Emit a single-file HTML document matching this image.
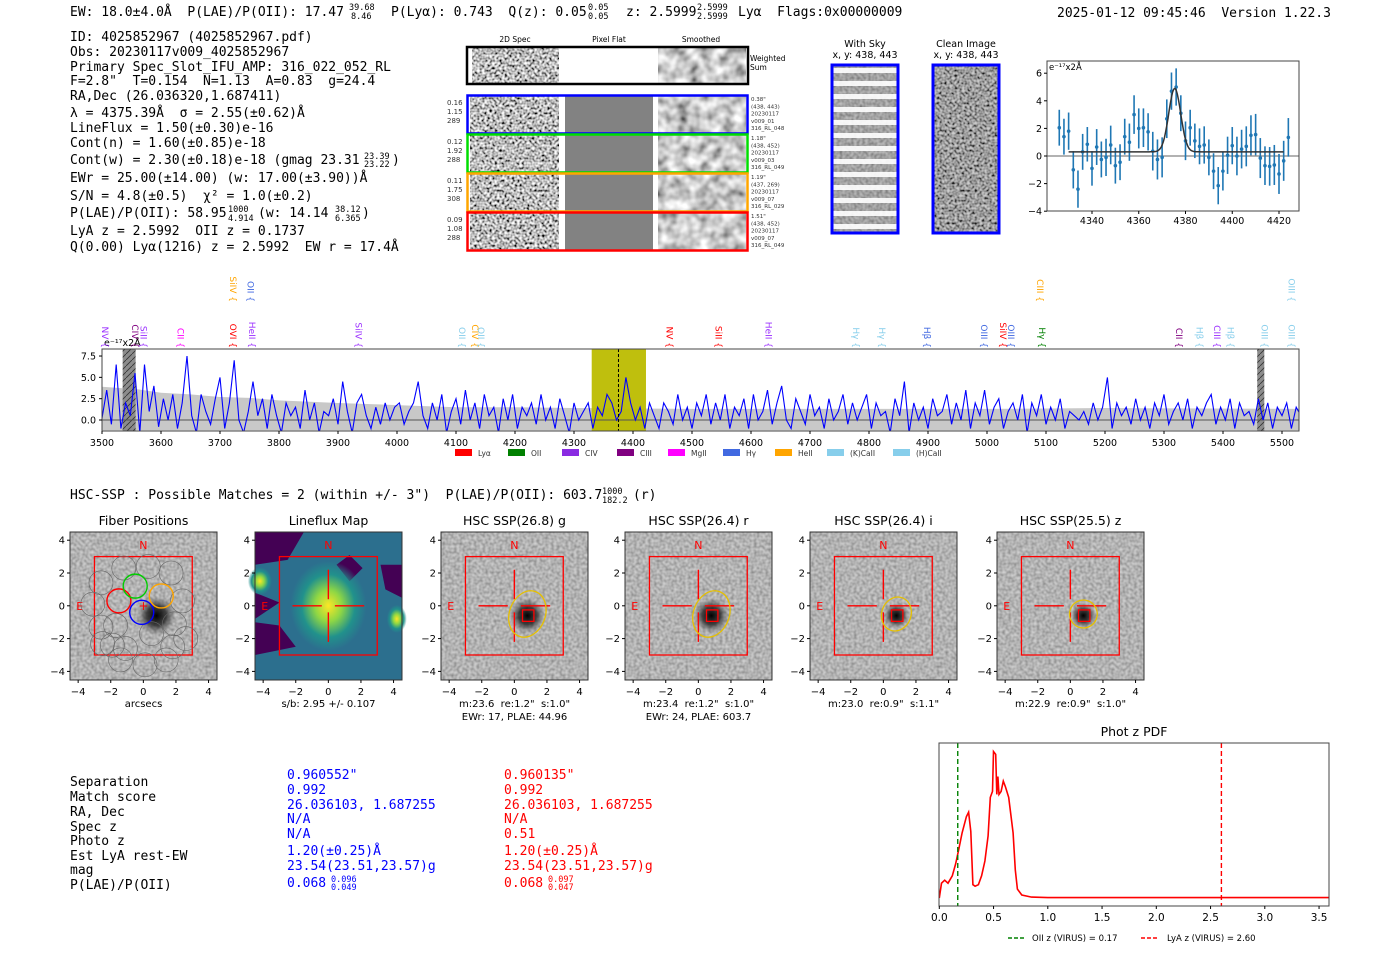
<!DOCTYPE html>
<html><head><meta charset="utf-8">
<style>
html,body{margin:0;padding:0;background:#fff;}
svg{display:block;}
text{white-space:pre;}
.m{font-family:"DejaVu Sans Mono","Liberation Mono",monospace;font-size:13px;fill:#000;}
.m .sm, .sm{font-size:8.5px;}
.s{font-family:"DejaVu Sans","Liberation Sans",sans-serif;}
</style></head>
<body>
<svg id="fig" width="1400" height="953" viewBox="0 0 1400 953" xmlns="http://www.w3.org/2000/svg">
<defs>
 <filter id="nz" x="0" y="0" width="100%" height="100%"><feTurbulence type="fractalNoise" baseFrequency="0.35" numOctaves="1" seed="3"/><feColorMatrix values="1.1 0 0 0 0.1  1.1 0 0 0 0.1  1.1 0 0 0 0.1  0 0 0 0 1"/></filter>
 <filter id="nzh" x="0" y="0" width="100%" height="100%"><feTurbulence type="fractalNoise" baseFrequency="0.4" numOctaves="1" seed="7"/><feColorMatrix values="2.2 0 0 0 -0.6  2.2 0 0 0 -0.6  2.2 0 0 0 -0.6  0 0 0 0 1"/></filter>
 <filter id="nzs" x="0" y="0" width="100%" height="100%"><feTurbulence type="fractalNoise" baseFrequency="0.09" numOctaves="2" seed="5"/><feColorMatrix values="1.4 0 0 0 -0.1  1.4 0 0 0 -0.1  1.4 0 0 0 -0.1  0 0 0 0 1"/></filter>
 <radialGradient id="blob"><stop offset="0" stop-color="#000"/><stop offset="0.5" stop-color="#222" stop-opacity="0.8"/><stop offset="1" stop-color="#666" stop-opacity="0"/></radialGradient>
 <radialGradient id="vir"><stop offset="0" stop-color="#fde725"/><stop offset="0.35" stop-color="#8fd744"/><stop offset="0.7" stop-color="#21918c"/><stop offset="1" stop-color="#21918c" stop-opacity="0"/></radialGradient>
 <pattern id="hatch" width="6" height="6" patternUnits="userSpaceOnUse"><rect width="6" height="6" fill="#8c8c8c"/><path d="M0 6 L6 0" stroke="#333" stroke-width="0.8"/></pattern>
 <clipPath id="clipMain"><rect x="102" y="349" width="1197" height="82"/></clipPath>
 <clipPath id="clipZoom"><rect x="1047" y="61" width="252" height="150"/></clipPath>
</defs>

<!-- header -->
<g class="m">
 <text x="70" y="16">EW: 18.0±4.0Å  P(LAE)/P(OII): 17.47</text>
 <text x="349" y="10" class="sm">39.68</text><text x="351" y="19" class="sm">8.46</text>
 <text x="391" y="16">P(Lyα): 0.743  Q(z): 0.05</text>
 <text x="588" y="10" class="sm">0.05</text><text x="588" y="19" class="sm">0.05</text>
 <text x="626" y="16">z: 2.5999</text>
 <text x="697" y="10" class="sm">2.5999</text><text x="697" y="19" class="sm">2.5999</text>
 <text x="738" y="16">Lyα  Flags:0x00000009</text>
</g>
<text class="m" x="1057" y="17">2025-01-12 09:45:46  Version 1.22.3</text>

<g class="m">
 <text x="70" y="41">ID: 4025852967 (4025852967.pdf)</text>
 <text x="70" y="56">Obs: 20230117v009_4025852967</text>
 <text x="70" y="71">Primary Spec_Slot_IFU_AMP: 316_022_052_RL</text>
 <text x="70" y="85">F=2.8"  T=0.154  N=1.13  A=0.83  g=24.4</text>
 <text x="70" y="100">RA,Dec (26.036320,1.687411)</text>
 <text x="70" y="117">λ = 4375.39Å  σ = 2.55(±0.62)Å</text>
 <text x="70" y="132">LineFlux = 1.50(±0.30)e-16</text>
 <text x="70" y="147">Cont(n) = 1.60(±0.85)e-18</text>
 <text x="70" y="164">Cont(w) = 2.30(±0.18)e-18 (gmag 23.31</text>
 <text x="364" y="159" class="sm">23.39</text><text x="364" y="167" class="sm">23.22</text><text x="392" y="164">)</text>
 <text x="70" y="182">EWr = 25.00(±14.00) (w: 17.00(±3.90))Å</text>
 <text x="70" y="200">S/N = 4.8(±0.5)  χ² = 1.0(±0.2)</text>
 <text x="70" y="217">P(LAE)/P(OII): 58.95</text>
 <text x="228" y="212" class="sm">1000</text><text x="228" y="221" class="sm">4.914</text>
 <text x="258" y="217">(w: 14.14</text>
 <text x="335" y="212" class="sm">38.12</text><text x="335" y="221" class="sm">6.365</text><text x="362" y="217">)</text>
 <text x="70" y="235">LyA z = 2.5992  OII z = 0.1737</text>
 <text x="70" y="251">Q(0.00) Lyα(1216) z = 2.5992  EW r = 17.4Å</text>
</g>

<!-- 2D spectra block -->
<g class="s" font-size="7.5">
 <text x="515" y="42" text-anchor="middle">2D Spec</text>
 <text x="609" y="42" text-anchor="middle">Pixel Flat</text>
 <text x="701" y="42" text-anchor="middle">Smoothed</text>
 <rect x="472" y="48" width="87" height="35" filter="url(#nzh)"/>
 <rect x="658" y="48" width="88" height="35" filter="url(#nzs)"/>
 <rect x="467" y="47" width="281" height="37" fill="none" stroke="#000" stroke-width="2.5"/>
 <text x="750" y="61">Weighted</text><text x="750" y="70">Sum</text>
 <g id="specRows"></g>
</g>

<g>
 <text class="s" font-size="9.5" x="865" y="47" text-anchor="middle">With Sky</text>
 <text class="s" font-size="9.5" x="865" y="58" text-anchor="middle">x, y: 438, 443</text>
 <rect x="832" y="65" width="66" height="168" filter="url(#nz)"/>
 <rect x="832" y="65" width="66" height="168" fill="#444" opacity="0.35"/>
 <g id="skyStripes"></g>
 <rect x="832" y="65" width="66" height="168" fill="none" stroke="#0000ff" stroke-width="3"/>
</g>
<g>
 <text class="s" font-size="9.5" x="966" y="47" text-anchor="middle">Clean Image</text>
 <text class="s" font-size="9.5" x="966" y="58" text-anchor="middle">x, y: 438, 443</text>
 <rect x="933" y="65" width="66" height="168" filter="url(#nzh)"/>
 <rect x="933" y="65" width="66" height="168" fill="#555" opacity="0.3"/>
 <rect x="933" y="65" width="66" height="168" fill="none" stroke="#0000ff" stroke-width="3"/>
</g>

<g id="zoomPlot"></g>
<g id="mainSpec"></g>

<g class="m">
<text x="70" y="499">HSC-SSP : Possible Matches = 2 (within +/- 3")  P(LAE)/P(OII): 603.7</text>
<text x="602" y="494" class="sm">1000</text>
<text x="602" y="503" class="sm">182.2</text>
<text x="633" y="499">(r)</text>
</g>

<g id="cutouts"></g>

<!-- match table -->
<g class="m">
 <g>
 <text x="70" y="786">Separation</text><text x="70" y="801">Match score</text><text x="70" y="816">RA, Dec</text>
 <text x="70" y="831">Spec z</text><text x="70" y="845">Photo z</text><text x="70" y="860">Est LyA rest-EW</text>
 <text x="70" y="874">mag</text><text x="70" y="889">P(LAE)/P(OII)</text></g>
 <g>
 <text x="287" y="779" fill="#0000ff">0.960552"</text><text x="287" y="794" fill="#0000ff">0.992</text>
 <text x="287" y="809" fill="#0000ff">26.036103, 1.687255</text><text x="287" y="823" fill="#0000ff">N/A</text>
 <text x="287" y="838" fill="#0000ff">N/A</text><text x="287" y="855" fill="#0000ff">1.20(±0.25)Å</text>
 <text x="287" y="870" fill="#0000ff">23.54(23.51,23.57)g</text><text x="287" y="887" fill="#0000ff">0.068</text>
 <text x="331" y="882" class="sm" fill="#0000ff">0.096</text><text x="331" y="890" class="sm" fill="#0000ff">0.049</text></g>
 <g>
 <text x="504" y="779" fill="#ff0000">0.960135"</text><text x="504" y="794" fill="#ff0000">0.992</text>
 <text x="504" y="809" fill="#ff0000">26.036103, 1.687255</text><text x="504" y="823" fill="#ff0000">N/A</text>
 <text x="504" y="838" fill="#ff0000">0.51</text><text x="504" y="855" fill="#ff0000">1.20(±0.25)Å</text>
 <text x="504" y="870" fill="#ff0000">23.54(23.51,23.57)g</text><text x="504" y="887" fill="#ff0000">0.068</text>
 <text x="548" y="882" class="sm" fill="#ff0000">0.097</text><text x="548" y="890" class="sm" fill="#ff0000">0.047</text></g>
</g>

<g id="photz"></g>
</svg>

<script>
// ---------- data ----------
const fitWave = [4326,4328,4330,4332,4334,4336,4338,4340,4342,4344,4346,4348,4350,4352,4354,4356,4358,4360,4362,4364,4366,4368,4370,4372,4374,4376,4378,4380,4382,4384,4386,4388,4390,4392,4394,4396,4398,4400,4402,4404,4406,4408,4410,4412,4414,4416,4418,4420,4422,4424];
const fitFlux = [2.05,1.4,1.8,-1.0,-2.4,0.3,0.85,-0.9,0.65,-0.25,-0.1,0.8,-0.7,-0.45,1.4,1.0,3.0,2.0,2.05,1.75,0.35,-0.25,-0.1,2.7,4.7,5.0,3.1,1.1,2.05,1.1,0.7,0.8,-0.1,-1.1,-2.15,-1.1,0.05,0.75,0.0,0.5,0.7,1.5,1.55,-0.15,-0.7,-0.75,-0.65,-1.3,-0.35,1.35];
const fitErr = [1.3,1.3,1.35,1.35,1.35,1.3,1.25,1.25,1.3,1.3,1.35,1.4,1.3,1.3,1.3,1.35,1.4,1.45,1.4,1.35,1.4,1.45,1.45,1.4,1.35,1.35,1.3,1.4,1.3,1.25,1.3,1.35,1.3,1.3,1.35,1.4,1.35,1.35,1.4,1.4,1.45,1.45,1.5,1.45,1.4,1.4,1.45,1.45,1.45,1.4];
const fitCenter = 4375.39, fitSigma = 2.55, fitAmp = 4.6, fitBase = 0.3, fitLo = 4330, fitHi = 4422;
const zoomYTicks = [6,4,2,0,-2,-4];
const zoomXTicks = [4340,4360,4380,4400,4420];

const specStart = 3500, specStep = 8;
const specFlux = [0.2,3.5,-0.5,6.5,-1,2,0.5,5.5,-1.5,6.5,1,4,-0.8,
2.5,0,3,-1,2,7.5,0.5,-1.5,3,1,-0.5,2.5,5,
-1,2,7,0,-1.5,1,4.5,0.5,2.5,-1,3,0.5,-1.5,
2,0.5,1.5,-1,3.5,0,2,-1.5,1,0.5,2.5,-0.5,4.5,
1,-1.5,2,3,0.5,-1,1.5,-0.5,2,0,1.5,2,-0.5,
1,2,4.5,0.5,-1,2,0,3,-1.5,1,2.5,-0.5,3.5,
0,2,-1,3,0.5,1.5,-1.5,2.5,0,3,-1,1.5,0.5,
2,-0.5,3,0,1.5,-1,2.5,0.5,-1.5,2,0,1,2,
-1,1.5,0.5,3,2,0,1,5,2,0,1.5,-1,2,
0.5,-1,2,1,-0.5,3,0,1.5,-1,2,0.5,3,-0.5,
2,0,3,-1,1.5,0.5,2.5,-1,3,0,1,3.5,-0.5,
2,4,0,-1,2.5,1,-0.5,3,0.5,1.5,-1,2.5,0,
1,3,-0.5,2,0,1.5,3,-1,2,0.5,1,-1.5,2.5,
0.5,4.5,-1.5,2,0,1.5,-1,2.5,0.5,1,3,-0.5,2,
0,3.5,-1,2,0.5,3.5,-0.5,1.5,2.5,-1,1,2,0,
3,-1.5,2,0.5,3,-0.5,1.5,0,2.5,-1,1,0.5,0,
1,-0.5,2,0,1.5,5,-1,2,0.5,1.5,-0.5,2.5,0,
1.5,-1,2,0.5,3,-0.5,1,2,0,2.5,-1,1.5,0.5,
2,3,-0.5,1.5,0,2.5,-1,2,0.5,1,-0.5,2.5,0,
2,-1,1.5,0.5,2,-1,1.5,0.5];
const errWave = [3500,3560,3600,3650,3700,3750,3800,3900,4000,4100,4200,4300,4500,5000,5200,5530];
const errHi = [3.9,3.6,3.2,3.0,2.7,2.6,2.3,2.0,1.75,1.5,1.5,1.4,1.3,1.3,1.4,1.3];
const errLo = [-1.2,-1.2,-1.2,-1.2,-1.2,-1.2,-1.2,-1.2,-1.2,-1.2,-1.2,-1.2,-1.2,-1.2,-1.2,-1.2];
const specXTicks = [3500,3600,3700,3800,3900,4000,4100,4200,4300,4400,4500,4600,4700,4800,4900,5000,5100,5200,5300,5400,5500];
const specYTicks = [7.5,5.0,2.5,0.0];
const lineNames = ["NV","CIV","SiII","CII","SiIV","OVI","OII","HeII","SiIV","OII","CIV","OII","NV","SiII","HeII","Hγ","Hγ","Hβ","OIII","SiIV","OIII","CIII","Hγ","CII","Hβ","CIII","Hβ","OIII","OIII","OIII"];
const lineWaves = [3505,3556,3570,3633,3722,3722,3752,3754,3935,4110,4132,4142,4462,4545,4630,4778,4822,4898,4995,5027,5041,5090,5093,5325,5360,5390,5413,5470,5516,5516];
const lineRow = [0,0,0,0,1,0,1,0,0,0,0,0,0,0,0,0,0,0,0,0,0,1,0,0,0,0,0,0,1,0];
const lineColors = ["#9b30ff","#800080","#9b30ff","#ff00ff","#ffa500","#ff0000","#4169e1","#9b30ff","#9b30ff","#87ceeb","#ffa500","#87ceeb","#ff0000","#ff0000","#9b30ff","#87ceeb","#87ceeb","#4169e1","#4169e1","#ff0000","#4169e1","#ffa500","#008000","#800080","#87ceeb","#9b30ff","#87ceeb","#87ceeb","#87ceeb","#87ceeb"];
const legendNames = ["Lyα","OII","CIV","CIII","MgII","Hγ","HeII","(K)CaII","(H)CaII"];
const legendColors = ["#ff0000","#008000","#8a2be2","#800080","#ff00ff","#4169e1","#ffa500","#87ceeb","#87ceeb"];

const pdfZ = [0,0.02,0.05,0.08,0.12,0.15,0.18,0.21,0.25,0.27,0.29,0.31,0.33,0.36,0.39,0.42,0.45,0.47,0.49,0.50,0.52,0.53,0.54,0.55,0.57,0.59,0.61,0.64,0.66,0.68,0.70,0.72,0.76,0.85,1.0,3.6];
const pdfP = [0,0.10,0.12,0.10,0.15,0.23,0.33,0.44,0.55,0.58,0.45,0.09,0.08,0.09,0.15,0.25,0.42,0.68,0.72,0.99,0.97,0.70,0.82,0.70,0.72,0.79,0.75,0.68,0.56,0.44,0.19,0.06,0.02,0.006,0.003,0.003];
const pdfXTicks = [0,0.5,1.0,1.5,2.0,2.5,3.0,3.5];
const oiiZ = 0.17, lyaZ = 2.60;

const cutTitles = ["Fiber Positions","Lineflux Map","HSC SSP(26.8) g","HSC SSP(26.4) r","HSC SSP(26.4) i","HSC SSP(25.5) z"];
const cutLeft = [70,255,441,625,810,997];
const cutCap1 = ["arcsecs","s/b: 2.95 +/- 0.107","m:23.6  re:1.2\"  s:1.0\"","m:23.4  re:1.2\"  s:1.0\"","m:23.0  re:0.9\"  s:1.1\"","m:22.9  re:0.9\"  s:1.0\""];
const cutCap2 = ["","","EWr: 17, PLAE: 44.96","EWr: 24, PLAE: 603.7","",""];
const ellRx = [0,0,1.1,1.1,0.9,0.85];
const ellRy = [0,0,1.45,1.45,1.05,0.85];
const cutTicks = [-4,-2,0,2,4];
const fiberX = [-2.6,-1.2,0.3,1.7,-3.1,-1.7,2.4,-2.6,-1.9,1.9,2.6,-2.5,-1.1,0.5,1.8,-1.4,0.1,1.4];
const fiberY = [1.4,2.3,2.4,2.0,0.1,-1.2,0.3,-1.3,-2.4,-1.1,-2.0,-2.3,-2.6,-1.7,-2.5,-3.3,-3.6,-3.3];
const colFiberX = [-1.5,-0.5,1.1,-0.1];
const colFiberY = [0.3,1.2,0.6,-0.4];
const colFiberC = ["#ff0000","#00cc00","#ffa500","#0000ff"];

const rowColors = ["#0000ff","#00dd00","#ffa500","#ff0000"];
const rowLeft = [["0.16","1.15","289"],["0.12","1.92","288"],["0.11","1.75","308"],["0.09","1.08","288"]];
const rowRight = [["0.38\"","(438, 443)","20230117","v009_01","316_RL_048"],["1.18\"","(438, 452)","20230117","v009_03","316_RL_049"],["1.19\"","(437, 269)","20230117","v009_07","316_RL_029"],["1.51\"","(438, 452)","20230117","v009_07","316_RL_049"]];

// ---------- helpers ----------
const NS = "http://www.w3.org/2000/svg";
function mk(parent, tag, attrs, txt){
  const e = document.createElementNS(NS, tag);
  for (const k in attrs) e.setAttribute(k, attrs[k]);
  if (txt !== undefined) e.textContent = txt;
  parent.appendChild(e);
  return e;
}
const SANS = '"DejaVu Sans","Liberation Sans",sans-serif';

// ---------- 2D spec rows ----------
(function(){
  const g = document.getElementById('specRows');
  const tops = [95,134,173,212];
  for (let i=0;i<4;i++){
    const y = tops[i], h = 38;
    let el;
    el = mk(g,'rect',{x:470,y:y,width:89,height:h,filter:'url(#nzh)'});
    
    
    el = mk(g,'rect',{x:565,y:y,width:88,height:h,fill:'#828282'});
    
    
    el = mk(g,'rect',{x:658,y:y,width:88,height:h,filter:'url(#nzs)'});
    
    
    el = mk(g,'rect',{x:467.5,y:y+0.5,width:280,height:h,fill:'none',stroke:rowColors[i],'stroke-width':2.5});
    
    
    for (let j=0;j<3;j++){
      el = mk(g,'text',{x:447,y:y+10+j*9,'font-size':7,'font-family':SANS,fill:'#333'},rowLeft[i][j]);
      
      
    }
    for (let j=0;j<5;j++){
      el = mk(g,'text',{x:751,y:y+6+j*7.3,'font-size':5.5,'font-family':SANS,fill:'#333'},rowRight[i][j]);
      
      
    }
  }
  const s = document.getElementById('skyStripes');
  for (let k=0;k<13;k++){
    const el = mk(s,'rect',{x:832,y:68+k*13,width:66,height:5,fill:'#fff',opacity:0.9});
    
    
  }
})();

// ---------- zoom fit plot ----------
(function(){
  const g = document.getElementById('zoomPlot');
  const X0=1047,X1=1299,Y0=61,Y1=211;
  const zx = w => 1092 + (w-4340)*2.3375;
  const zy = v => 156 - v*13.8;
  let el;
  el = mk(g,'line',{x1:X0,x2:X1,y1:zy(0),y2:zy(0),stroke:'#666','stroke-width':1});
  
  
  const c = mk(g,'g',{'clip-path':'url(#clipZoom)'});
  for (let i=0;i<fitWave.length;i++){
    const x = zx(fitWave[i]);
    el = mk(c,'line',{x1:x,x2:x,y1:zy(fitFlux[i]-fitErr[i]),y2:zy(fitFlux[i]+fitErr[i]),stroke:'#1f77b4','stroke-width':1.6});
    
    
    el = mk(c,'circle',{cx:x,cy:zy(fitFlux[i]),r:1.8,fill:'#1f77b4'});
    
    
  }
  let d='';
  for (let w=fitLo; w<=fitHi; w+=0.5){
    const v = fitBase + fitAmp*Math.exp(-0.5*Math.pow((w-fitCenter)/fitSigma,2));
    d += (d?'L':'M')+zx(w).toFixed(1)+' '+zy(v).toFixed(1);
  }
  el = mk(g,'path',{d:d,fill:'none',stroke:'#333','stroke-width':1.5});
  
  
  el = mk(g,'rect',{x:X0,y:Y0,width:X1-X0,height:Y1-Y0,fill:'none',stroke:'#444','stroke-width':1});
  
  
  zoomYTicks.forEach(t=>{
    el = mk(g,'line',{x1:X0-3,x2:X0,y1:zy(t),y2:zy(t),stroke:'#000'});
    
    
    el = mk(g,'text',{x:X0-5,y:zy(t)+3.5,'text-anchor':'end','font-size':9.5,'font-family':SANS},String(t).replace('-','−'));
    
    
  });
  zoomXTicks.forEach(t=>{
    el = mk(g,'line',{x1:zx(t),x2:zx(t),y1:Y1,y2:Y1+3,stroke:'#000'});
    
    
    el = mk(g,'text',{x:zx(t),y:Y1+13,'text-anchor':'middle','font-size':9.5,'font-family':SANS},String(t));
    
    
  });
  el = mk(g,'text',{x:X0+2,y:Y0+9,'font-size':8.5,'font-family':SANS},'e⁻¹⁷x2Å');
  
  
})();

// ---------- main spectrum ----------
(function(){
  const g = document.getElementById('mainSpec');
  const X0=102,X1=1299,Y0=349,Y1=431;
  const sx = w => 102 + (w-3500)*0.59;
  const sy = v => 420 - v*8.53;
  let el;
  const c = mk(g,'g',{'clip-path':'url(#clipMain)'});
  let d='';
  for (let i=0;i<errWave.length;i++) d += (i?'L':'M')+sx(errWave[i])+' '+sy(errHi[i]);
  for (let i=errWave.length-1;i>=0;i--) d += 'L'+sx(errWave[i])+' '+sy(errLo[i]);
  el = mk(c,'path',{d:d+'Z',fill:'#c8c8c8'});
  
  
  el = mk(c,'rect',{x:sx(4330),y:Y0,width:sx(4422)-sx(4330),height:Y1-Y0,fill:'#bcbc00',opacity:0.95});
  
  
  el = mk(c,'rect',{x:sx(3535),y:Y0,width:sx(3557)-sx(3535),height:Y1-Y0,fill:'url(#hatch)'});
  
  
  el = mk(c,'rect',{x:sx(5458),y:Y0,width:sx(5470)-sx(5458),height:Y1-Y0,fill:'url(#hatch)'});
  
  
  el = mk(c,'line',{x1:X0,x2:X1,y1:sy(0),y2:sy(0),stroke:'#555','stroke-width':1});
  
  
  d='';
  specFlux.forEach((v,i)=>{ d += (i?'L':'M')+sx(specStart+i*specStep).toFixed(1)+' '+sy(v).toFixed(1); });
  el = mk(c,'path',{d:d,fill:'none',stroke:'#0000ff','stroke-width':1.1});
  
  
  el = mk(c,'line',{x1:sx(4375.4),x2:sx(4375.4),y1:Y0,y2:Y1,stroke:'#000','stroke-dasharray':'3,2','stroke-width':1});
  
  
  el = mk(g,'rect',{x:X0,y:Y0,width:X1-X0,height:Y1-Y0,fill:'none',stroke:'#444','stroke-width':1});
  
  
  specXTicks.forEach(t=>{
    el = mk(g,'line',{x1:sx(t),x2:sx(t),y1:Y1,y2:Y1+3,stroke:'#000'});
    
    
    el = mk(g,'text',{x:sx(t),y:Y1+15,'text-anchor':'middle','font-size':9.5,'font-family':SANS},String(t));
    
    
  });
  specYTicks.forEach(t=>{
    el = mk(g,'line',{x1:X0-3,x2:X0,y1:sy(t),y2:sy(t),stroke:'#000'});
    
    
    el = mk(g,'text',{x:X0-6,y:sy(t)+3.5,'text-anchor':'end','font-size':9.5,'font-family':SANS},t.toFixed(1));
    
    
  });
  el = mk(g,'text',{x:104,y:346,'font-size':9.5,'font-family':SANS},'e⁻¹⁷x2Å');
  
  
  lineNames.forEach((n,i)=>{
    const x = sx(lineWaves[i]);
    const yEnd = lineRow[i] ? 302 : 348;
    el = mk(g,'text',{x:0,y:0,transform:`translate(${x-3},${yEnd}) rotate(90)`,'text-anchor':'end','font-size':9,'font-family':SANS,fill:lineColors[i]},n+' {');
    
    
  });
  const lx = [455,508,562,617,668,723,775,827,893];
  legendNames.forEach((n,i)=>{
    el = mk(g,'rect',{x:lx[i],y:449,width:17,height:7,fill:legendColors[i]});
    
    
    el = mk(g,'text',{x:lx[i]+23,y:456,'font-size':7.5,'font-family':SANS,fill:'#333'},n);
    
    
  });
})();

// ---------- cutouts ----------
(function(){
  const g = document.getElementById('cutouts');
  const Y0=532, W=147, H=148;
  let el;
  for (let p=0;p<6;p++){
    const x0 = cutLeft[p];
    const cx = u => x0 + (u+4.5)*16.3;
    const cy = v => Y0 + (4.5-v)*16.4;
    const pg = mk(g,'g',{});
    
    
    el = mk(pg,'text',{x:x0+W/2,y:525,'text-anchor':'middle','font-size':12.5,'font-family':SANS},cutTitles[p]);
    
    
    if (p===1){
      el = mk(pg,'rect',{x:x0,y:Y0,width:W,height:H,fill:'#2c6f8e'});
      
      
      const purple = [[ -4.5,4.5,-1.5,4.5,-2.5,2.8,-4.5,2.5 ],[0.5,2.5,1.3,1.5,2.1,2.3,1.3,3.1],[3.2,2.5,4.5,2.5,4.5,0.5,3.5,1],[-4.5,-1.0,-3,-1.2,-2,-2.5,-4.5,-3],[-4.5,0.8,-3,0.2,-4.5,-0.8]];
      purple.forEach(pp=>{
        let d='';
        for (let k=0;k<pp.length;k+=2) d += (k?'L':'M')+cx(pp[k])+' '+cy(pp[k+1]);
        el = mk(pg,'path',{d:d+'Z',fill:'#440154'});
        
        
      });
      el = mk(pg,'ellipse',{cx:cx(0),cy:cy(0),rx:38,ry:45,fill:'url(#vir)'});
      
      
      el = mk(pg,'ellipse',{cx:cx(-4.2),cy:cy(1.5),rx:12,ry:14,fill:'url(#vir)'});
      
      
      el = mk(pg,'ellipse',{cx:cx(4.2),cy:cy(-0.8),rx:10,ry:14,fill:'url(#vir)'});
      
      
    } else {
      el = mk(pg,'rect',{x:x0,y:Y0,width:W,height:H,filter:'url(#nz)'});
      
      
      el = mk(pg,'rect',{x:x0,y:Y0,width:W,height:H,fill:'#777',opacity:0.35});
      
      
      el = mk(pg,'circle',{cx:cx(0.8),cy:cy(-0.6),r:p===0?20:(p<4?18:13),fill:'url(#blob)'});
      
      
    }
    el = mk(pg,'rect',{x:cx(-3),y:cy(3),width:cx(3)-cx(-3),height:cy(-3)-cy(3),fill:'none',stroke:'#ff0000','stroke-width':1.3});
    
    
    if (p>0){
      const segs = [[-2.2,0,-0.4,0],[0.4,0,2.2,0],[0,2.2,0,0.4],[0,-0.4,0,-2.2]];
      segs.forEach(s=>{
        el = mk(pg,'line',{x1:cx(s[0]),y1:cy(s[1]),x2:cx(s[2]),y2:cy(s[3]),stroke:'#ff0000','stroke-width':1.4});
        
        
      });
    }
    el = mk(pg,'text',{x:cx(0),y:cy(3.7)+4,'text-anchor':'middle','font-size':11,'font-family':SANS,fill:'#ff0000'},'N');
    
    
    el = mk(pg,'text',{x:cx(-3.9),y:cy(0)+4,'text-anchor':'middle','font-size':11,'font-family':SANS,fill:'#ff0000'},'E');
    
    
    if (p===0){
      for (let k=0;k<fiberX.length;k++){
        el = mk(pg,'circle',{cx:cx(fiberX[k]),cy:cy(fiberY[k]),r:12,fill:'none',stroke:'#666','stroke-width':0.6});
        
        
      }
      for (let k=0;k<colFiberX.length;k++){
        el = mk(pg,'circle',{cx:cx(colFiberX[k]),cy:cy(colFiberY[k]),r:12,fill:'none',stroke:colFiberC[k],'stroke-width':1.4});
        
        
      }
      el = mk(pg,'text',{x:cx(0),y:cy(0)+4,'text-anchor':'middle','font-size':12,'font-family':SANS,fill:'#ff0000'},'+');
      
      
    }
    if (p>=2){
      el = mk(pg,'ellipse',{cx:cx(0.8),cy:cy(-0.5),rx:ellRx[p]*16.3,ry:ellRy[p]*16.4,fill:'none',stroke:'#e6c000','stroke-width':1.3,transform:`rotate(20 ${cx(0.8)} ${cy(-0.5)})`});
      
      
      el = mk(pg,'rect',{x:cx(0.5),y:cy(-0.25),width:16.3*0.7,height:16.4*0.7,fill:'none',stroke:'#ff0000','stroke-width':1.3});
      
      
    }
    el = mk(pg,'rect',{x:x0,y:Y0,width:W,height:H,fill:'none',stroke:'#333','stroke-width':1});
    
    
    cutTicks.forEach(t=>{
      el = mk(pg,'text',{x:cx(t),y:Y0+H+15,'text-anchor':'middle','font-size':10,'font-family':SANS},String(t).replace('-','−'));
      
      
      el = mk(pg,'line',{x1:cx(t),x2:cx(t),y1:Y0+H,y2:Y0+H+3,stroke:'#000'});
      
      
      el = mk(pg,'text',{x:x0-5,y:cy(t)+3.5,'text-anchor':'end','font-size':10,'font-family':SANS},String(t).replace('-','−'));
      
      
      el = mk(pg,'line',{x1:x0-3,x2:x0,y1:cy(t),y2:cy(t),stroke:'#000'});
      
      
    });
    el = mk(pg,'text',{x:x0+W/2,y:707,'text-anchor':'middle','font-size':10,'font-family':SANS},cutCap1[p]);
    
    
    if (cutCap2[p]){
      el = mk(pg,'text',{x:x0+W/2,y:720,'text-anchor':'middle','font-size':10,'font-family':SANS},cutCap2[p]);
      
      
    }
  }
})();

// ---------- phot z pdf ----------
(function(){
  const g = document.getElementById('photz');
  const X0=939,X1=1329,Y0=743,Y1=906;
  const px = z => 939.3 + z*108.5;
  const py = v => 898 - v*148;
  let el;
  el = mk(g,'text',{x:(X0+X1)/2,y:736,'text-anchor':'middle','font-size':12.5,'font-family':SANS},'Phot z PDF');
  
  
  let d='';
  pdfZ.forEach((z,i)=>{ d += (i?'L':'M')+px(Math.min(z,3.59)).toFixed(1)+' '+py(pdfP[i]).toFixed(1); });
  el = mk(g,'path',{d:d,fill:'none',stroke:'#ff0000','stroke-width':1.6});
  
  
  el = mk(g,'line',{x1:px(oiiZ),x2:px(oiiZ),y1:Y0,y2:Y1,stroke:'#008000','stroke-width':1.4,'stroke-dasharray':'5,3'});
  
  
  el = mk(g,'line',{x1:px(lyaZ),x2:px(lyaZ),y1:Y0,y2:Y1,stroke:'#ff0000','stroke-width':1.4,'stroke-dasharray':'5,3'});
  
  
  el = mk(g,'rect',{x:X0,y:Y0,width:X1-X0,height:Y1-Y0,fill:'none',stroke:'#444','stroke-width':1});
  
  
  pdfXTicks.forEach(t=>{
    el = mk(g,'line',{x1:px(t),x2:px(t),y1:Y1,y2:Y1+3,stroke:'#000'});
    
    
    el = mk(g,'text',{x:px(t),y:Y1+15,'text-anchor':'middle','font-size':10.5,'font-family':SANS},t.toFixed(1));
    
    
  });
  el = mk(g,'line',{x1:1008,x2:1025,y1:938,y2:938,stroke:'#008000','stroke-width':1.5,'stroke-dasharray':'4,2'});
  
  
  el = mk(g,'text',{x:1032,y:941,'font-size':8.5,'font-family':SANS},'OII z (VIRUS) = 0.17');
  
  
  el = mk(g,'line',{x1:1141,x2:1158,y1:938,y2:938,stroke:'#ff0000','stroke-width':1.5,'stroke-dasharray':'4,2'});
  
  
  el = mk(g,'text',{x:1167,y:941,'font-size':8.5,'font-family':SANS},'LyA z (VIRUS) = 2.60');
  
  
})();
</script>
</body></html>
